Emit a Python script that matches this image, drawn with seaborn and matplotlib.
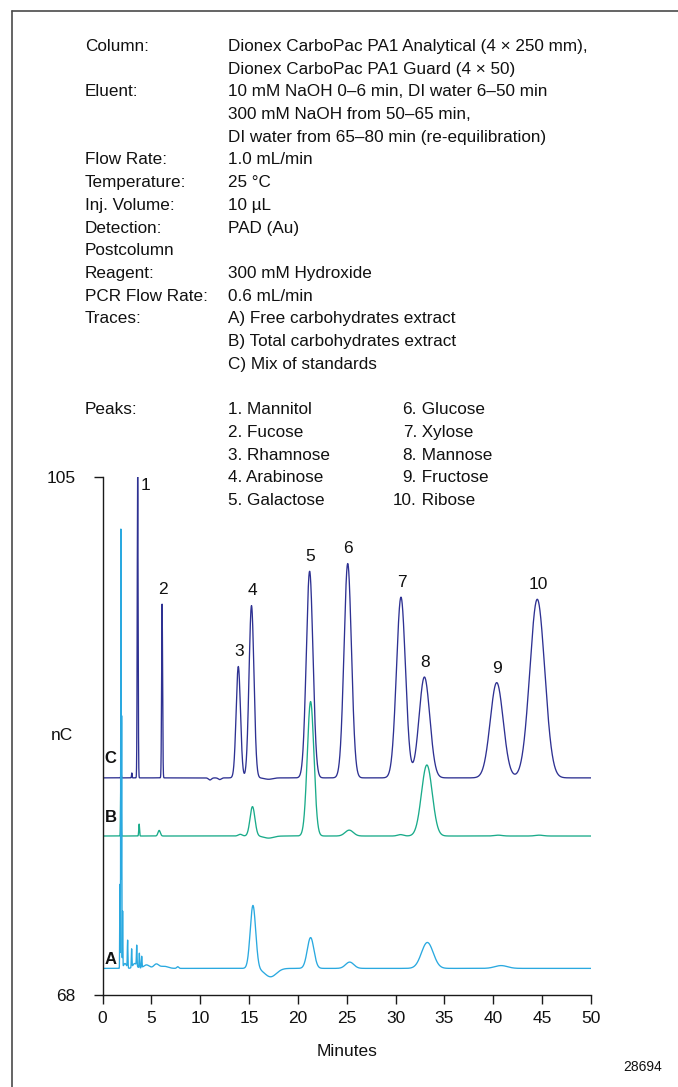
import numpy as np
import pandas as pd
import matplotlib
matplotlib.use("Agg")
import matplotlib.pyplot as plt
from matplotlib.lines import Line2D
import seaborn as sns

# ---------------- data ----------------
# Trace C: mix of standards (peak table: retention time [min], height above baseline [nC], width sigma [min])
peak_labels = ["1", "2", "3", "4", "5", "6", "7", "8", "9", "10"]
peak_names = ["Mannitol", "Fucose", "Rhamnose", "Arabinose", "Galactose",
              "Glucose", "Xylose", "Mannose", "Fructose", "Ribose"]
c_times = [3.6, 6.1, 13.9, 15.25, 21.2, 25.1, 30.55, 32.95, 40.35, 44.5]
c_heights = [21.5, 12.4, 7.95, 12.3, 14.75, 15.3, 12.9, 7.2, 6.8, 12.75]
c_widths = [0.045, 0.05, 0.22, 0.25, 0.34, 0.38, 0.46, 0.55, 0.66, 0.76]
# small baseline features of trace C
c_small_times = [1.9, 3.0, 11.0, 12.0, 17.0]
c_small_heights = [0.3, 0.35, -0.15, -0.12, -0.1]
c_small_widths = [0.03, 0.03, 0.15, 0.15, 0.4]
c_baseline = 83.5

# Trace B: total carbohydrates extract
b_times = [1.88, 3.75, 5.8, 14.1, 15.35, 17.0, 21.3, 25.25, 30.5, 33.2, 40.5, 44.7]
b_heights = [4.6, 0.85, 0.4, 0.12, 2.1, -0.15, 9.6, 0.42, 0.1, 5.07, 0.06, 0.06]
b_widths = [0.03, 0.04, 0.12, 0.2, 0.25, 0.5, 0.34, 0.42, 0.3, 0.55, 0.4, 0.4]
b_baseline = 79.35

# Trace A: free carbohydrates extract
a_times = [1.78, 1.88, 1.96, 2.06, 2.3, 2.57, 2.98, 3.3, 3.5, 3.77, 4.01, 4.5, 5.5, 6.3, 7.7,
           15.4, 17.2, 21.3, 25.3, 33.25, 40.8]
a_heights = [6.0, 31.35, 18.0, 4.0, 0.35, 1.95, 1.3, 0.35, 1.45, 1.05, 0.8, 0.25, 0.3, 0.15, 0.12,
             4.5, -0.6, 2.2, 0.45, 1.85, 0.2]
a_widths = [0.02, 0.02, 0.02, 0.02, 0.15, 0.03, 0.03, 0.2, 0.03, 0.03, 0.03, 0.3, 0.25, 0.4, 0.1,
            0.28, 0.6, 0.34, 0.42, 0.6, 0.65]
a_baseline = 69.9

trace_names = ["A", "B", "C"]
trace_label_y = [70.5, 80.64, 84.85]

xticks = [0, 5, 10, 15, 20, 25, 30, 35, 40, 45, 50]
yticks = [68, 105]

info_rows = [
    ("Column:", "Dionex CarboPac PA1 Analytical (4 × 250 mm),"),
    ("", "Dionex CarboPac PA1 Guard (4 × 50)"),
    ("Eluent:", "10 mM NaOH 0–6 min, DI water 6–50 min"),
    ("", "300 mM NaOH from 50–65 min,"),
    ("", "DI water from 65–80 min (re-equilibration)"),
    ("Flow Rate:", "1.0 mL/min"),
    ("Temperature:", "25 °C"),
    ("Inj. Volume:", "10 µL"),
    ("Detection:", "PAD (Au)"),
    ("Postcolumn", ""),
    ("Reagent:", "300 mM Hydroxide"),
    ("PCR Flow Rate:", "0.6 mL/min"),
    ("Traces:", "A) Free carbohydrates extract"),
    ("", "B) Total carbohydrates extract"),
    ("", "C) Mix of standards"),
]

# ---------------- build traces from peak tables ----------------
t = np.linspace(0, 50, 20001)


def trace(base, times, heights, widths):
    y = np.full_like(t, base)
    for tr, h, w in zip(times, heights, widths):
        y += h * np.exp(-0.5 * ((t - tr) / w) ** 2)
    return y


yC = trace(c_baseline, c_times + c_small_times, c_heights + c_small_heights, c_widths + c_small_widths)
yB = trace(b_baseline, b_times, b_heights, b_widths)
yA = trace(a_baseline, a_times, a_heights, a_widths)

colors = {"C": "#2e3192", "B": "#1aab8a", "A": "#2aa9e0"}

# ---------------- figure ----------------
sns.set_style("ticks")
plt.rcParams["font.family"] = ["Liberation Sans", "DejaVu Sans"]

W, H = 678, 1087
fig = plt.figure(figsize=(W / 100, H / 100), dpi=100)

x0_px, x50_px = 102.5, 591.0
ytop_px, ybot_px = 476.7, 995.0
ax = fig.add_axes([x0_px / W, 1 - ybot_px / H, (x50_px - x0_px) / W, (ybot_px - ytop_px) / H])

for name, yy in [("C", yC), ("B", yB), ("A", yA)]:
    sns.lineplot(x=t, y=yy, ax=ax, color=colors[name], linewidth=0.95,
                 estimator=None, sort=False, legend=False)

ax.set_xlim(0, 50)
ax.set_ylim(68, 105)
ax.set_xticks(xticks)
ax.set_xticklabels([str(v) for v in xticks])
ax.set_yticks(yticks)
ax.set_yticklabels([str(v) for v in yticks])
for s in ["top", "right"]:
    ax.spines[s].set_visible(False)
for s in ["left", "bottom"]:
    ax.spines[s].set_color("#1a1a1a")
    ax.spines[s].set_linewidth(1.0)
ax.tick_params(axis="both", direction="out", length=6.5, width=1.0, color="#1a1a1a",
               labelsize=12.5, labelcolor="#111111")
ax.tick_params(axis="y", pad=13)
ax.tick_params(axis="x", pad=5)

ax.set_xlabel("Minutes", fontsize=12.5, color="#111111")
ax.xaxis.set_label_coords(0.5, (ybot_px - 1051) / (ybot_px - ytop_px))
ax.xaxis.label.set_va("center")
ax.set_ylabel("nC", fontsize=12.5, rotation=0, color="#111111")
ax.yaxis.set_label_coords((73 - x0_px) / (x50_px - x0_px), 0.5)
ax.yaxis.label.set_ha("right")
ax.yaxis.label.set_va("center")

# peak labels on trace C
for i, (lab, tr) in enumerate(zip(peak_labels, c_times)):
    top = float(np.interp(tr, t, yC))
    top = min(top, 105)
    if lab == "1":
        ax.annotate(lab, (tr, top), xytext=(5.5, -6), textcoords="offset points",
                    ha="center", va="center", fontsize=12.5, color="#111111", annotation_clip=False)
    else:
        ax.annotate(lab, (tr, top), xytext=(0.5, 10.5), textcoords="offset points",
                    ha="center", va="center", fontsize=12.5, color="#111111", annotation_clip=False)

# trace letters
for name, yl in zip(trace_names, trace_label_y):
    ax.text(0.2, yl, name, ha="left", va="center", fontsize=12, fontweight="bold", color="#111111")

# ---------------- conditions text block ----------------
fs = 12.3
line_h = 22.7
y_first = 46.5
lab_x, val_x = 85 / W, 228 / W
for i, (lab, val) in enumerate(info_rows):
    yy = 1 - (y_first + i * line_h) / H
    if lab:
        fig.text(lab_x, yy, lab, fontsize=fs, ha="left", va="center", color="#111111")
    if val:
        fig.text(val_x, yy, val, fontsize=fs, ha="left", va="center", color="#111111")

peak_row0 = 16
fig.text(lab_x, 1 - (y_first + peak_row0 * line_h) / H, "Peaks:", fontsize=fs, ha="left",
         va="center", color="#111111")
col2_dot_x = 417 / W
for i, (lab, nm) in enumerate(zip(peak_labels, peak_names)):
    row = peak_row0 + (i % 5)
    yy = 1 - (y_first + row * line_h) / H
    if i < 5:
        fig.text(val_x, yy, f"{lab}. {nm}", fontsize=fs, ha="left", va="center", color="#111111")
    else:
        fig.text(col2_dot_x, yy, f"{lab}.", fontsize=fs, ha="right", va="center", color="#111111")
        fig.text(col2_dot_x, yy, f" {nm}", fontsize=fs, ha="left", va="center", color="#111111")

fig.text(643 / W, 1 - 1067 / H, "28694", fontsize=10, ha="center", va="center", color="#111111")

# frame (left and top edges visible)
fig.add_artist(Line2D([11.7 / W, 11.7 / W], [0, 1 - 11 / H], transform=fig.transFigure,
                      color="#4a4a4a", linewidth=1.2))
fig.add_artist(Line2D([11.7 / W, 1], [1 - 11 / H, 1 - 11 / H], transform=fig.transFigure,
                      color="#4a4a4a", linewidth=1.2))

fig.savefig("out.png", dpi=100)
